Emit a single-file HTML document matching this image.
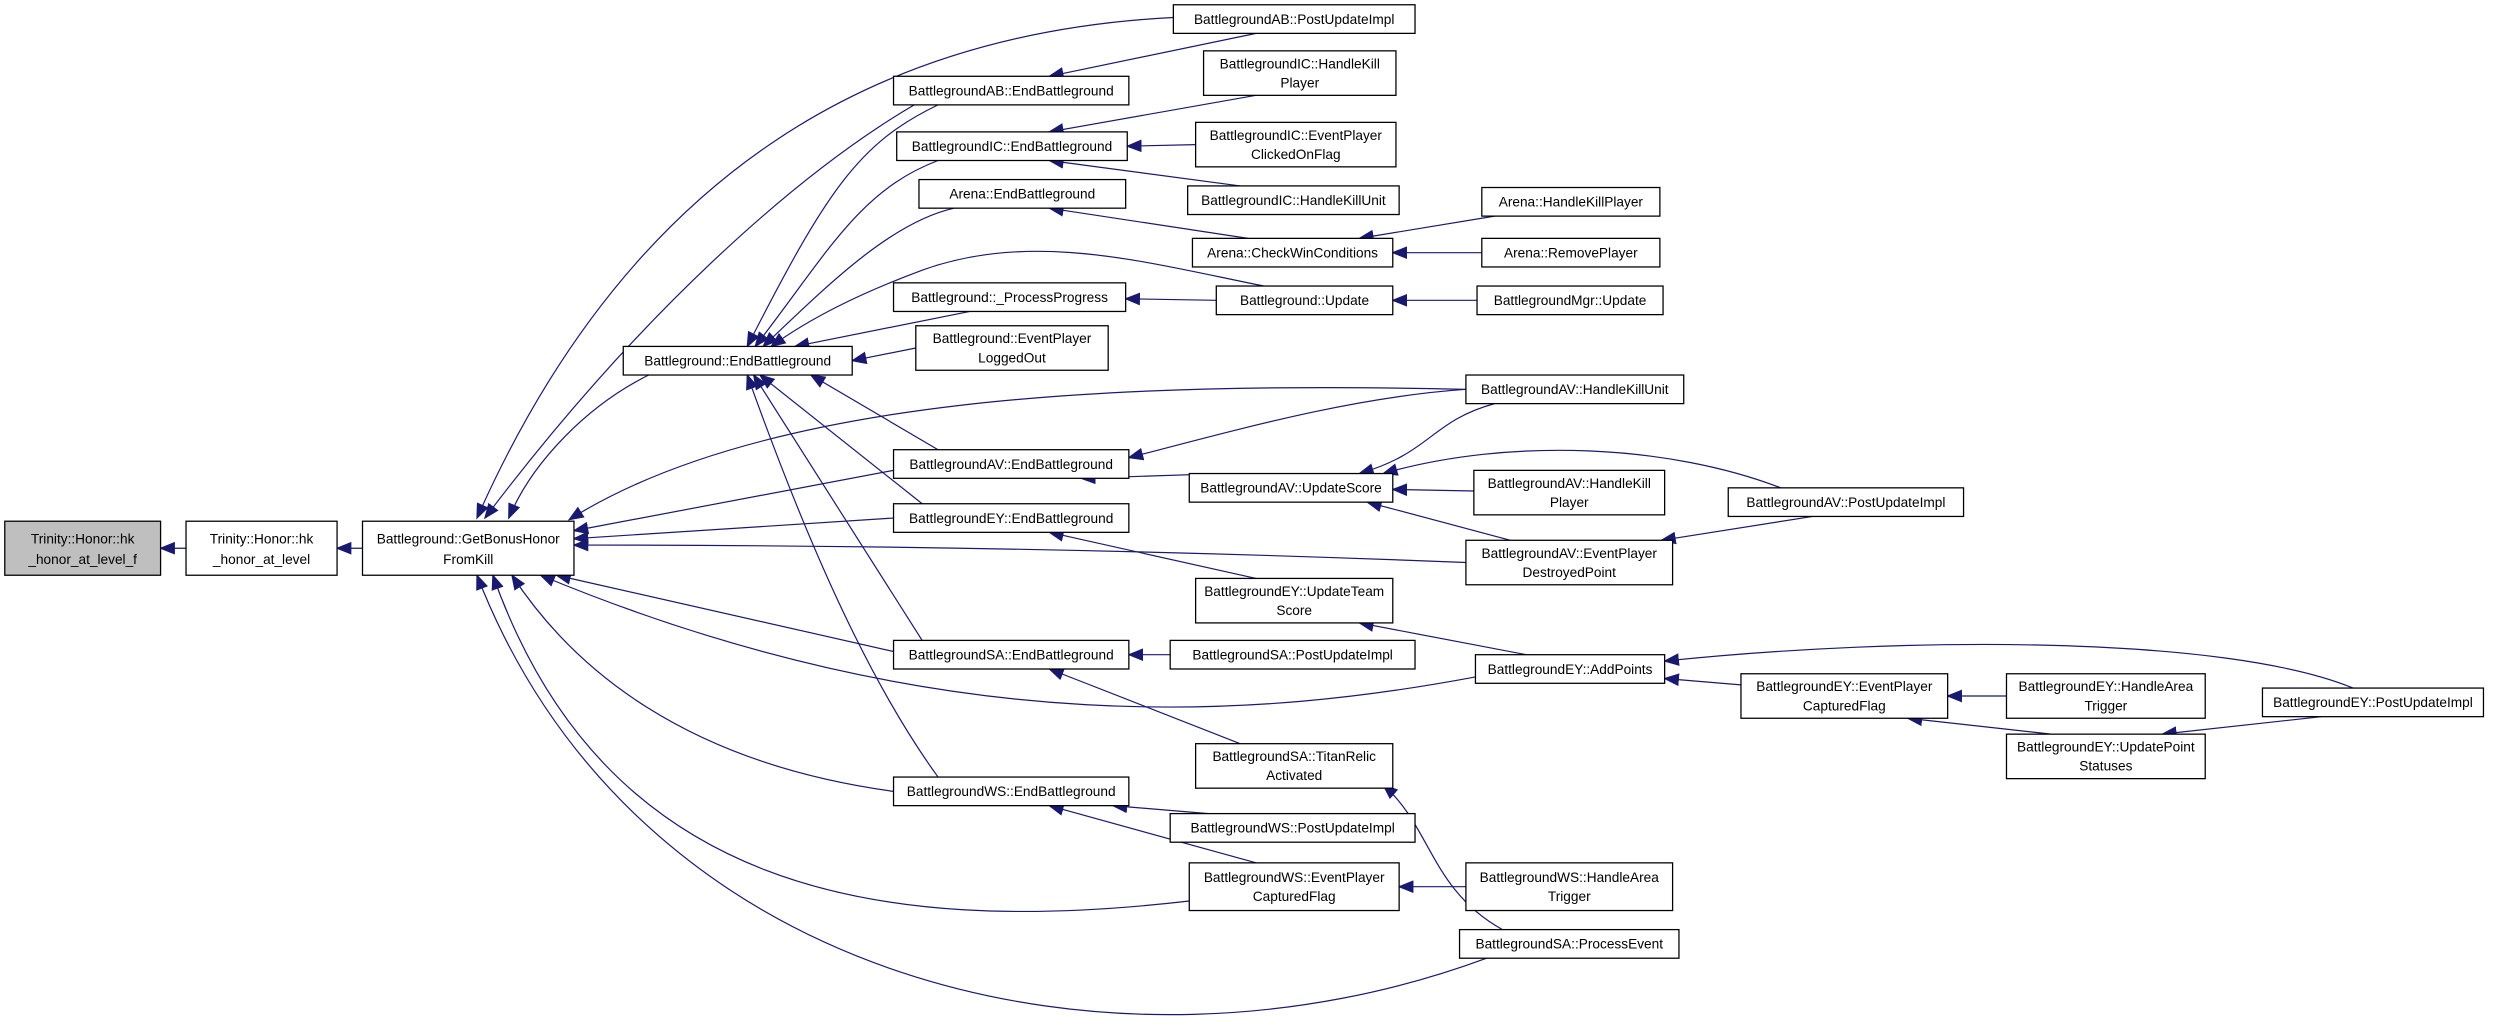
<!DOCTYPE html>
<html><head><meta charset="utf-8"><style>
html,body{margin:0;padding:0;background:#fff;}
svg{display:block;}
text{font-family:"Liberation Sans",sans-serif;font-size:8.6px;fill:#000;text-anchor:middle;}
rect{fill:#fff;stroke:#000;stroke-width:0.8;}
path{fill:none;stroke:#191970;stroke-width:0.75;}
</style></head><body>
<svg width="2493" height="1017" viewBox="0 0 1568 640" preserveAspectRatio="none" xmlns="http://www.w3.org/2000/svg">
<defs><marker id="a" markerWidth="10" markerHeight="8" refX="9" refY="4" orient="auto" markerUnits="userSpaceOnUse"><polygon points="0,0 10,4 0,8" fill="#191970"/></marker></defs>
<g marker-end="url(#a)">
<path d="M117,345 L101,345"/>
<path d="M228,345 L212,345"/>
<path d="M408,236 C370,255 335,290 320,326"/>
<path d="M738,11 C560,20 400,100 300,326"/>
<path d="M575,66 C500,110 400,200 305,326"/>
<path d="M922,245 C700,240 480,250 358,327"/>
<path d="M562,296 L361,334"/>
<path d="M562,326 L361,339"/>
<path d="M922,354 C700,345 500,343 361,343"/>
<path d="M562,410 L350,362"/>
<path d="M928,426 C800,450 600,470 340,362"/>
<path d="M562,498 C430,480 360,420 322,362"/>
<path d="M748,567 C550,590 380,560 310,362"/>
<path d="M935,603 C700,690 400,620 300,362"/>
<path d="M590,66 C540,90 520,120 470,218"/>
<path d="M590,101 C540,120 520,160 475,218"/>
<path d="M600,131 C560,140 520,180 480,218"/>
<path d="M795,180 C720,165 650,145 580,170 C540,185 510,200 485,218"/>
<path d="M610,196 L500,218"/>
<path d="M576,219 L536,227"/>
<path d="M590,283 L510,236"/>
<path d="M580,317 L478,236"/>
<path d="M580,403 L474,236"/>
<path d="M590,489 C540,420 500,320 470,236"/>
<path d="M790,21 L660,48"/>
<path d="M790,60 L660,83"/>
<path d="M752,91 L709,92"/>
<path d="M780,117 L660,101"/>
<path d="M785,150 L660,131"/>
<path d="M940,136 L855,150"/>
<path d="M932,159 L876,159"/>
<path d="M765,189 L708,188"/>
<path d="M929,189 L876,189"/>
<path d="M922,245 C850,250 780,270 710,288"/>
<path d="M770,298 L680,301"/>
<path d="M940,254 C900,265 900,285 855,298"/>
<path d="M927,309 L876,308"/>
<path d="M1120,307 C1050,280 950,275 870,298"/>
<path d="M950,340 L860,316"/>
<path d="M1140,325 L1045,340"/>
<path d="M790,364 L660,335"/>
<path d="M960,412 L855,392"/>
<path d="M1095,431 L1047,427"/>
<path d="M1480,433 C1400,400 1200,400 1047,416"/>
<path d="M1262,438 L1225,438"/>
<path d="M1290,462 L1200,452"/>
<path d="M1460,451 L1360,462"/>
<path d="M736,412 L710,412"/>
<path d="M780,468 L660,421"/>
<path d="M945,585 C900,560 900,520 870,494"/>
<path d="M760,512 L700,507"/>
<path d="M790,543 L660,507"/>
<path d="M922,558 L880,558"/>
</g>
<rect x="3" y="328" width="98" height="34" style="fill:#bfbfbf"/><text x="52" y="342">Trinity::Honor::hk</text><text x="52" y="355">_honor_at_level_f</text>
<rect x="117" y="328" width="95" height="34"/><text x="164.5" y="342">Trinity::Honor::hk</text><text x="164.5" y="355">_honor_at_level</text>
<rect x="228" y="328" width="133" height="34"/><text x="294.5" y="342">Battleground::GetBonusHonor</text><text x="294.5" y="355">FromKill</text>
<rect x="392" y="218" width="144" height="18"/><text x="464" y="230">Battleground::EndBattleground</text>
<rect x="562" y="48" width="148" height="18"/><text x="636" y="60">BattlegroundAB::EndBattleground</text>
<rect x="738" y="3" width="152" height="18"/><text x="814" y="15">BattlegroundAB::PostUpdateImpl</text>
<rect x="757" y="32" width="121" height="28"/><text x="817.5" y="43">BattlegroundIC::HandleKill</text><text x="817.5" y="55">Player</text>
<rect x="564" y="83" width="145" height="18"/><text x="636.5" y="95">BattlegroundIC::EndBattleground</text>
<rect x="752" y="77" width="126" height="28"/><text x="815" y="88">BattlegroundIC::EventPlayer</text><text x="815" y="100">ClickedOnFlag</text>
<rect x="747" y="117" width="133" height="18"/><text x="813.5" y="129">BattlegroundIC::HandleKillUnit</text>
<rect x="578" y="113" width="130" height="18"/><text x="643" y="125">Arena::EndBattleground</text>
<rect x="750" y="150" width="126" height="18"/><text x="813" y="162">Arena::CheckWinConditions</text>
<rect x="932" y="118" width="112" height="18"/><text x="988" y="130">Arena::HandleKillPlayer</text>
<rect x="932" y="150" width="112" height="18"/><text x="988" y="162">Arena::RemovePlayer</text>
<rect x="562" y="178" width="146" height="18"/><text x="635" y="190">Battleground::_ProcessProgress</text>
<rect x="765" y="180" width="111" height="18"/><text x="820.5" y="192">Battleground::Update</text>
<rect x="929" y="180" width="117" height="18"/><text x="987.5" y="192">BattlegroundMgr::Update</text>
<rect x="576" y="205" width="121" height="28"/><text x="636.5" y="216">Battleground::EventPlayer</text><text x="636.5" y="228">LoggedOut</text>
<rect x="922" y="236" width="137" height="18"/><text x="990.5" y="248">BattlegroundAV::HandleKillUnit</text>
<rect x="562" y="283" width="148" height="18"/><text x="636" y="295">BattlegroundAV::EndBattleground</text>
<rect x="748" y="298" width="128" height="18"/><text x="812" y="310">BattlegroundAV::UpdateScore</text>
<rect x="927" y="296" width="120" height="28"/><text x="987" y="307">BattlegroundAV::HandleKill</text><text x="987" y="319">Player</text>
<rect x="1087" y="307" width="148" height="18"/><text x="1161" y="319">BattlegroundAV::PostUpdateImpl</text>
<rect x="562" y="317" width="148" height="18"/><text x="636" y="329">BattlegroundEY::EndBattleground</text>
<rect x="922" y="340" width="130" height="28"/><text x="987" y="351">BattlegroundAV::EventPlayer</text><text x="987" y="363">DestroyedPoint</text>
<rect x="752" y="364" width="124" height="28"/><text x="814" y="375">BattlegroundEY::UpdateTeam</text><text x="814" y="387">Score</text>
<rect x="562" y="403" width="148" height="18"/><text x="636" y="415">BattlegroundSA::EndBattleground</text>
<rect x="736" y="403" width="154" height="18"/><text x="813" y="415">BattlegroundSA::PostUpdateImpl</text>
<rect x="928" y="412" width="119" height="18"/><text x="987.5" y="424">BattlegroundEY::AddPoints</text>
<rect x="1095" y="424" width="130" height="28"/><text x="1160" y="435">BattlegroundEY::EventPlayer</text><text x="1160" y="447">CapturedFlag</text>
<rect x="1262" y="424" width="125" height="28"/><text x="1324.5" y="435">BattlegroundEY::HandleArea</text><text x="1324.5" y="447">Trigger</text>
<rect x="1262" y="462" width="125" height="28"/><text x="1324.5" y="473">BattlegroundEY::UpdatePoint</text><text x="1324.5" y="485">Statuses</text>
<rect x="1423" y="433" width="139" height="18"/><text x="1492.5" y="445">BattlegroundEY::PostUpdateImpl</text>
<rect x="752" y="468" width="124" height="28"/><text x="814" y="479">BattlegroundSA::TitanRelic</text><text x="814" y="491">Activated</text>
<rect x="562" y="489" width="148" height="18"/><text x="636" y="501">BattlegroundWS::EndBattleground</text>
<rect x="736" y="512" width="154" height="18"/><text x="813" y="524">BattlegroundWS::PostUpdateImpl</text>
<rect x="748" y="543" width="132" height="30"/><text x="814" y="555">BattlegroundWS::EventPlayer</text><text x="814" y="567">CapturedFlag</text>
<rect x="922" y="543" width="130" height="30"/><text x="987" y="555">BattlegroundWS::HandleArea</text><text x="987" y="567">Trigger</text>
<rect x="918" y="585" width="138" height="18"/><text x="987" y="597">BattlegroundSA::ProcessEvent</text>
</svg>
</body></html>
